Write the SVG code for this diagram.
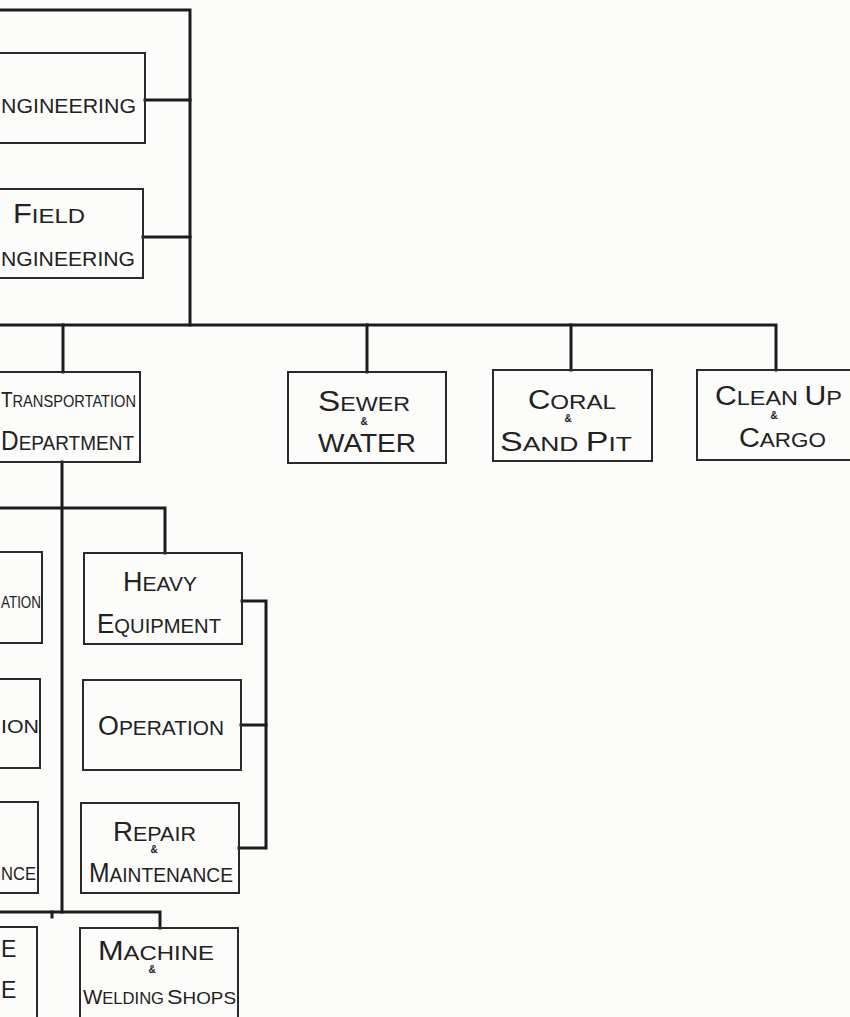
<svg xmlns="http://www.w3.org/2000/svg" width="850" height="1017" viewBox="0 0 850 1017">
<style>
.bg{fill:#fcfcfb}
.box{fill:none;stroke:#2a2a2a;stroke-width:2}
.con{fill:none;stroke:#1c1c1c;stroke-width:3;stroke-linejoin:miter;stroke-linecap:square}
.t{font-family:"Liberation Sans","DejaVu Sans",sans-serif;fill:#222;font-size:21px}
.b{font-size:27px}
.amp{font-family:"Liberation Sans",sans-serif;fill:#222;font-size:10px;font-weight:bold;text-anchor:middle}
</style>
<rect class="bg" x="0" y="0" width="850" height="1017"/>
<g id="connectors">
<path class="con" d="M0 10 H190 V325"/>
<path class="con" d="M145 100 H190"/>
<path class="con" d="M143 237 H190"/>
<path class="con" d="M0 325 H776 V370"/>
<path class="con" d="M63 325 V372"/>
<path class="con" d="M367 325 V372"/>
<path class="con" d="M571 325 V370"/>
<path class="con" d="M62 462 V912"/>
<path class="con" d="M0 508 H165 V553"/>
<path class="con" d="M242 601 H266 V848 H239"/>
<path class="con" d="M241 725 H266"/>
<path class="con" d="M0 912 H160 V928"/>
<path class="con" d="M52 912 V917"/>
</g>
<g id="node-engineering">
<rect class="box" x="-3" y="53" width="148" height="90"/>
<text class="t" x="1" y="113" textLength="135" lengthAdjust="spacingAndGlyphs">NGINEERING</text>
</g>
<g id="node-field-engineering">
<rect class="box" x="-3" y="189" width="146" height="89"/>
<text class="t" x="13" y="223" textLength="72" lengthAdjust="spacingAndGlyphs"><tspan class="b">F</tspan>IELD</text>
<text class="t" x="1" y="266" textLength="134" lengthAdjust="spacingAndGlyphs">NGINEERING</text>
</g>
<g id="node-transportation">
<rect class="box" x="-3" y="372" width="143" height="90"/>
<text class="t" x="1" y="407" style="font-size:17px" textLength="135" lengthAdjust="spacingAndGlyphs"><tspan style="font-size:22px">T</tspan>RANSPORTATION</text>
<text class="t" x="1" y="450" textLength="133" lengthAdjust="spacingAndGlyphs"><tspan class="b">D</tspan>EPARTMENT</text>
</g>
<g id="node-sewer">
<rect class="box" x="288" y="372" width="158" height="91"/>
<text class="t" x="318" y="411" textLength="92" lengthAdjust="spacingAndGlyphs"><tspan class="b" style="font-size:30px">S</tspan>EWER</text>
<text class="amp" x="364" y="425">&amp;</text>
<text class="t" x="318" y="452" textLength="98" lengthAdjust="spacingAndGlyphs" style="font-size:25px">WATER</text>
</g>
<g id="node-coral">
<rect class="box" x="493" y="370" width="159" height="91"/>
<text class="t" x="528" y="409" textLength="88" lengthAdjust="spacingAndGlyphs"><tspan class="b">C</tspan>ORAL</text>
<text class="amp" x="568" y="422">&amp;</text>
<text class="t" x="500" y="451" textLength="132" lengthAdjust="spacingAndGlyphs"><tspan class="b">S</tspan>AND  <tspan class="b">P</tspan>IT</text>
</g>
<g id="node-cleanup">
<rect class="box" x="697" y="370" width="160" height="90"/>
<text class="t" x="715" y="405" textLength="127" lengthAdjust="spacingAndGlyphs"><tspan class="b">C</tspan>LEAN <tspan class="b">U</tspan>P</text>
<text class="amp" x="774" y="419">&amp;</text>
<text class="t" x="739" y="447" textLength="87" lengthAdjust="spacingAndGlyphs"><tspan class="b">C</tspan>ARGO</text>
</g>
<g id="node-left-1">
<rect class="box" x="-3" y="552" width="45" height="91"/>
<text class="t" x="1" y="608" style="font-size:17px" textLength="40" lengthAdjust="spacingAndGlyphs">ATION</text>
</g>
<g id="node-left-2">
<rect class="box" x="-3" y="679" width="43" height="89"/>
<text class="t" x="1" y="733" style="font-size:18px" textLength="38" lengthAdjust="spacingAndGlyphs">ION</text>
</g>
<g id="node-left-3">
<rect class="box" x="-3" y="802" width="41" height="91"/>
<text class="t" x="1" y="880" style="font-size:18px" textLength="35" lengthAdjust="spacingAndGlyphs">NCE</text>
</g>
<g id="node-left-4">
<rect class="box" x="-3" y="927" width="40" height="95"/>
<text class="t" x="1" y="957" style="font-size:23px">E</text>
<text class="t" x="1" y="998" style="font-size:23px">E</text>
</g>
<g id="node-heavy">
<rect class="box" x="84" y="553" width="158" height="91"/>
<text class="t" x="123" y="591" textLength="74" lengthAdjust="spacingAndGlyphs"><tspan class="b">H</tspan>EAVY</text>
<text class="t" x="97" y="633" textLength="124" lengthAdjust="spacingAndGlyphs"><tspan class="b">E</tspan>QUIPMENT</text>
</g>
<g id="node-operation">
<rect class="box" x="83" y="680" width="158" height="90"/>
<text class="t" x="98" y="735" textLength="126" lengthAdjust="spacingAndGlyphs"><tspan class="b">O</tspan>PERATION</text>
</g>
<g id="node-repair">
<rect class="box" x="81" y="803" width="158" height="90"/>
<text class="t" x="113" y="841" textLength="83" lengthAdjust="spacingAndGlyphs"><tspan class="b">R</tspan>EPAIR</text>
<text class="amp" x="154" y="853">&amp;</text>
<text class="t" x="89" y="882" textLength="144" lengthAdjust="spacingAndGlyphs"><tspan class="b">M</tspan>AINTENANCE</text>
</g>
<g id="node-machine">
<rect class="box" x="80" y="928" width="158" height="95"/>
<text class="t" x="98" y="960" textLength="116" lengthAdjust="spacingAndGlyphs"><tspan class="b">M</tspan>ACHINE</text>
<text class="amp" x="152" y="973">&amp;</text>
<text class="t" x="83" y="1004" style="font-size:17px" textLength="81" lengthAdjust="spacingAndGlyphs"><tspan style="font-size:21px">W</tspan>ELDING</text>
<text class="t" x="167" y="1004" style="font-size:17px" textLength="69" lengthAdjust="spacingAndGlyphs"><tspan style="font-size:21px">S</tspan>HOPS</text>
</g>
</svg>
